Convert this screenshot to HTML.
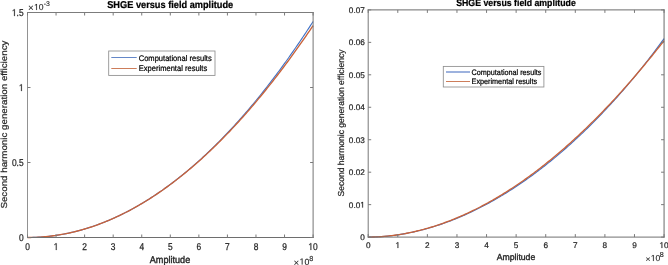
<!DOCTYPE html>
<html><head><meta charset="utf-8"><style>
html,body{margin:0;padding:0;background:#fff;width:668px;height:265px;overflow:hidden}
svg{display:block;will-change:transform}
text{font-family:"Liberation Sans",sans-serif;text-rendering:geometricPrecision}
</style></head><body>
<svg width="668" height="265" viewBox="0 0 668 265">
<rect width="668" height="265" fill="#fff"/>
<polyline points="27.50,237.50 28.93,237.49 30.36,237.48 31.78,237.45 33.21,237.42 34.64,237.37 36.07,237.31 37.50,237.24 38.92,237.16 40.35,237.07 41.78,236.97 43.21,236.86 44.64,236.74 46.06,236.60 47.49,236.46 48.92,236.31 50.35,236.14 51.78,235.97 53.20,235.78 54.63,235.59 56.06,235.38 57.49,235.16 58.92,234.94 60.34,234.70 61.77,234.45 63.20,234.19 64.63,233.92 66.06,233.64 67.48,233.35 68.91,233.04 70.34,232.73 71.77,232.41 73.20,232.07 74.62,231.73 76.05,231.37 77.48,231.01 78.91,230.63 80.34,230.25 81.76,229.85 83.19,229.44 84.62,229.02 86.05,228.59 87.48,228.15 88.90,227.70 90.33,227.24 91.76,226.77 93.19,226.29 94.62,225.79 96.04,225.29 97.47,224.77 98.90,224.25 100.33,223.71 101.76,223.17 103.18,222.61 104.61,222.04 106.04,221.46 107.47,220.88 108.90,220.28 110.32,219.67 111.75,219.05 113.18,218.41 114.61,217.77 116.04,217.12 117.46,216.46 118.89,215.78 120.32,215.10 121.75,214.40 123.18,213.70 124.60,212.98 126.03,212.25 127.46,211.51 128.89,210.77 130.32,210.01 131.74,209.24 133.17,208.46 134.60,207.66 136.03,206.86 137.46,206.05 138.88,205.23 140.31,204.39 141.74,203.55 143.17,202.69 144.60,201.82 146.02,200.95 147.45,200.06 148.88,199.16 150.31,198.25 151.74,197.33 153.16,196.40 154.59,195.46 156.02,194.51 157.45,193.54 158.88,192.57 160.30,191.58 161.73,190.59 163.16,189.58 164.59,188.56 166.02,187.54 167.44,186.50 168.87,185.45 170.30,184.39 171.73,183.31 173.16,182.23 174.58,181.14 176.01,180.03 177.44,178.92 178.87,177.79 180.30,176.66 181.72,175.51 183.15,174.35 184.58,173.18 186.01,172.00 187.44,170.81 188.86,169.61 190.29,168.39 191.72,167.17 193.15,165.93 194.58,164.69 196.00,163.43 197.43,162.16 198.86,160.88 200.29,159.59 201.72,158.29 203.14,156.98 204.57,155.66 206.00,154.32 207.43,152.98 208.86,151.62 210.28,150.25 211.71,148.87 213.14,147.48 214.57,146.08 216.00,144.67 217.42,143.24 218.85,141.81 220.28,140.36 221.71,138.91 223.14,137.44 224.56,135.96 225.99,134.47 227.42,132.96 228.85,131.45 230.28,129.93 231.70,128.39 233.13,126.84 234.56,125.28 235.99,123.71 237.42,122.13 238.84,120.54 240.27,118.93 241.70,117.32 243.13,115.69 244.56,114.05 245.98,112.40 247.41,110.74 248.84,109.07 250.27,107.38 251.70,105.68 253.12,103.98 254.55,102.26 255.98,100.52 257.41,98.78 258.84,97.03 260.26,95.26 261.69,93.48 263.12,91.69 264.55,89.89 265.98,88.08 267.40,86.25 268.83,84.42 270.26,82.57 271.69,80.71 273.12,78.84 274.54,76.95 275.97,75.06 277.40,73.15 278.83,71.23 280.26,69.30 281.68,67.35 283.11,65.40 284.54,63.43 285.97,61.45 287.40,59.46 288.82,57.45 290.25,55.44 291.68,53.41 293.11,51.37 294.54,49.31 295.96,47.25 297.39,45.17 298.82,43.08 300.25,40.98 301.68,38.86 303.10,36.74 304.53,34.60 305.96,32.45 307.39,30.28 308.82,28.11 310.24,25.92 311.67,23.71 313.10,21.50" fill="none" stroke="#3f71c6" stroke-width="1.1" stroke-linejoin="round"/>
<polyline points="27.50,237.50 28.93,237.49 30.36,237.48 31.78,237.45 33.21,237.42 34.64,237.37 36.07,237.31 37.50,237.24 38.92,237.16 40.35,237.07 41.78,236.97 43.21,236.86 44.64,236.74 46.06,236.60 47.49,236.46 48.92,236.31 50.35,236.14 51.78,235.97 53.20,235.78 54.63,235.59 56.06,235.38 57.49,235.16 58.92,234.94 60.34,234.70 61.77,234.45 63.20,234.19 64.63,233.92 66.06,233.64 67.48,233.35 68.91,233.04 70.34,232.73 71.77,232.41 73.20,232.07 74.62,231.73 76.05,231.37 77.48,231.01 78.91,230.63 80.34,230.25 81.76,229.85 83.19,229.44 84.62,229.02 86.05,228.59 87.48,228.15 88.90,227.70 90.33,227.24 91.76,226.77 93.19,226.29 94.62,225.80 96.04,225.29 97.47,224.78 98.90,224.25 100.33,223.72 101.76,223.17 103.18,222.62 104.61,222.05 106.04,221.47 107.47,220.88 108.90,220.28 110.32,219.68 111.75,219.06 113.18,218.42 114.61,217.78 116.04,217.13 117.46,216.47 118.89,215.80 120.32,215.11 121.75,214.42 123.18,213.71 124.60,213.00 126.03,212.27 127.46,211.54 128.89,210.79 130.32,210.03 131.74,209.26 133.17,208.48 134.60,207.69 136.03,206.89 137.46,206.08 138.88,205.26 140.31,204.43 141.74,203.59 143.17,202.73 144.60,201.87 146.02,201.00 147.45,200.11 148.88,199.22 150.31,198.31 151.74,197.39 153.16,196.47 154.59,195.53 156.02,194.58 157.45,193.62 158.88,192.65 160.30,191.67 161.73,190.68 163.16,189.68 164.59,188.67 166.02,187.64 167.44,186.61 168.87,185.57 170.30,184.51 171.73,183.45 173.16,182.37 174.58,181.29 176.01,180.19 177.44,179.08 178.87,177.96 180.30,176.83 181.72,175.70 183.15,174.55 184.58,173.39 186.01,172.21 187.44,171.03 188.86,169.84 190.29,168.64 191.72,167.42 193.15,166.20 194.58,164.97 196.00,163.72 197.43,162.46 198.86,161.20 200.29,159.92 201.72,158.63 203.14,157.34 204.57,156.03 206.00,154.71 207.43,153.38 208.86,152.04 210.28,150.69 211.71,149.32 213.14,147.95 214.57,146.57 216.00,145.17 217.42,143.77 218.85,142.36 220.28,140.93 221.71,139.49 223.14,138.05 224.56,136.59 225.99,135.12 227.42,133.64 228.85,132.16 230.28,130.66 231.70,129.15 233.13,127.63 234.56,126.09 235.99,124.55 237.42,123.00 238.84,121.44 240.27,119.86 241.70,118.28 243.13,116.68 244.56,115.08 245.98,113.46 247.41,111.83 248.84,110.20 250.27,108.55 251.70,106.89 253.12,105.22 254.55,103.54 255.98,101.85 257.41,100.15 258.84,98.44 260.26,96.72 261.69,94.98 263.12,93.24 264.55,91.49 265.98,89.72 267.40,87.95 268.83,86.16 270.26,84.37 271.69,82.56 273.12,80.74 274.54,78.91 275.97,77.08 277.40,75.23 278.83,73.37 280.26,71.50 281.68,69.61 283.11,67.72 284.54,65.82 285.97,63.91 287.40,61.98 288.82,60.05 290.25,58.11 291.68,56.15 293.11,54.18 294.54,52.21 295.96,50.22 297.39,48.22 298.82,46.22 300.25,44.20 301.68,42.17 303.10,40.13 304.53,38.08 305.96,36.02 307.39,33.94 308.82,31.86 310.24,29.77 311.67,27.66 313.10,25.55" fill="none" stroke="#c8623a" stroke-width="1.35" stroke-linejoin="round"/>
<line x1="27.50" y1="12.00" x2="27.50" y2="238.00" stroke="#929292" stroke-width="1"/>
<line x1="313.10" y1="12.00" x2="313.10" y2="238.00" stroke="#757575" stroke-width="1"/>
<line x1="27.00" y1="12.50" x2="313.60" y2="12.50" stroke="#7c7c7c" stroke-width="1"/>
<line x1="27.00" y1="237.50" x2="313.60" y2="237.50" stroke="#6e6e6e" stroke-width="1"/>
<line x1="27.50" y1="237.50" x2="27.50" y2="234.50" stroke="#7a7a7a" stroke-width="1"/>
<line x1="27.50" y1="12.50" x2="27.50" y2="15.50" stroke="#7a7a7a" stroke-width="1"/>
<text transform="translate(27.50,250.00) scale(1,1.170)" x="0" y="0" font-size="8.40" text-anchor="middle" fill="#262626" stroke="#262626" stroke-width="0.22">0</text>
<line x1="56.06" y1="237.50" x2="56.06" y2="234.50" stroke="#7a7a7a" stroke-width="1"/>
<line x1="56.06" y1="12.50" x2="56.06" y2="15.50" stroke="#7a7a7a" stroke-width="1"/>
<text transform="translate(53.72,250.00) scale(1,1.170)" x="0" y="0" font-size="8.40" fill="#262626" stroke="#262626" stroke-width="0.22">&#8199;</text>
<path d="M515 0V1237L197 1010V1180L530 1409H696V0Z" transform="translate(53.724,250.000) scale(0.004102,-0.004799)" fill="#262626" stroke="#262626" stroke-width="0.22" vector-effect="non-scaling-stroke"/>
<line x1="84.62" y1="237.50" x2="84.62" y2="234.50" stroke="#7a7a7a" stroke-width="1"/>
<line x1="84.62" y1="12.50" x2="84.62" y2="15.50" stroke="#7a7a7a" stroke-width="1"/>
<text transform="translate(84.62,250.00) scale(1,1.170)" x="0" y="0" font-size="8.40" text-anchor="middle" fill="#262626" stroke="#262626" stroke-width="0.22">2</text>
<line x1="113.18" y1="237.50" x2="113.18" y2="234.50" stroke="#7a7a7a" stroke-width="1"/>
<line x1="113.18" y1="12.50" x2="113.18" y2="15.50" stroke="#7a7a7a" stroke-width="1"/>
<text transform="translate(113.18,250.00) scale(1,1.170)" x="0" y="0" font-size="8.40" text-anchor="middle" fill="#262626" stroke="#262626" stroke-width="0.22">3</text>
<line x1="141.74" y1="237.50" x2="141.74" y2="234.50" stroke="#7a7a7a" stroke-width="1"/>
<line x1="141.74" y1="12.50" x2="141.74" y2="15.50" stroke="#7a7a7a" stroke-width="1"/>
<text transform="translate(141.74,250.00) scale(1,1.170)" x="0" y="0" font-size="8.40" text-anchor="middle" fill="#262626" stroke="#262626" stroke-width="0.22">4</text>
<line x1="170.30" y1="237.50" x2="170.30" y2="234.50" stroke="#7a7a7a" stroke-width="1"/>
<line x1="170.30" y1="12.50" x2="170.30" y2="15.50" stroke="#7a7a7a" stroke-width="1"/>
<text transform="translate(170.30,250.00) scale(1,1.170)" x="0" y="0" font-size="8.40" text-anchor="middle" fill="#262626" stroke="#262626" stroke-width="0.22">5</text>
<line x1="198.86" y1="237.50" x2="198.86" y2="234.50" stroke="#7a7a7a" stroke-width="1"/>
<line x1="198.86" y1="12.50" x2="198.86" y2="15.50" stroke="#7a7a7a" stroke-width="1"/>
<text transform="translate(198.86,250.00) scale(1,1.170)" x="0" y="0" font-size="8.40" text-anchor="middle" fill="#262626" stroke="#262626" stroke-width="0.22">6</text>
<line x1="227.42" y1="237.50" x2="227.42" y2="234.50" stroke="#7a7a7a" stroke-width="1"/>
<line x1="227.42" y1="12.50" x2="227.42" y2="15.50" stroke="#7a7a7a" stroke-width="1"/>
<text transform="translate(227.42,250.00) scale(1,1.170)" x="0" y="0" font-size="8.40" text-anchor="middle" fill="#262626" stroke="#262626" stroke-width="0.22">7</text>
<line x1="255.98" y1="237.50" x2="255.98" y2="234.50" stroke="#7a7a7a" stroke-width="1"/>
<line x1="255.98" y1="12.50" x2="255.98" y2="15.50" stroke="#7a7a7a" stroke-width="1"/>
<text transform="translate(255.98,250.00) scale(1,1.170)" x="0" y="0" font-size="8.40" text-anchor="middle" fill="#262626" stroke="#262626" stroke-width="0.22">8</text>
<line x1="284.54" y1="237.50" x2="284.54" y2="234.50" stroke="#7a7a7a" stroke-width="1"/>
<line x1="284.54" y1="12.50" x2="284.54" y2="15.50" stroke="#7a7a7a" stroke-width="1"/>
<text transform="translate(284.54,250.00) scale(1,1.170)" x="0" y="0" font-size="8.40" text-anchor="middle" fill="#262626" stroke="#262626" stroke-width="0.22">9</text>
<line x1="313.10" y1="237.50" x2="313.10" y2="234.50" stroke="#7a7a7a" stroke-width="1"/>
<line x1="313.10" y1="12.50" x2="313.10" y2="15.50" stroke="#7a7a7a" stroke-width="1"/>
<text transform="translate(308.43,250.00) scale(1,1.170)" x="0" y="0" font-size="8.40" fill="#262626" stroke="#262626" stroke-width="0.22">&#8199;0</text>
<path d="M515 0V1237L197 1010V1180L530 1409H696V0Z" transform="translate(308.428,250.000) scale(0.004102,-0.004799)" fill="#262626" stroke="#262626" stroke-width="0.22" vector-effect="non-scaling-stroke"/>
<line x1="27.50" y1="237.50" x2="30.50" y2="237.50" stroke="#7a7a7a" stroke-width="1"/>
<line x1="313.10" y1="237.50" x2="310.10" y2="237.50" stroke="#7a7a7a" stroke-width="1"/>
<text transform="translate(23.60,241.04) scale(1,1.170)" x="0" y="0" font-size="8.40" text-anchor="end" fill="#262626" stroke="#262626" stroke-width="0.22">0</text>
<line x1="27.50" y1="162.50" x2="30.50" y2="162.50" stroke="#7a7a7a" stroke-width="1"/>
<line x1="313.10" y1="162.50" x2="310.10" y2="162.50" stroke="#7a7a7a" stroke-width="1"/>
<text transform="translate(23.60,166.04) scale(1,1.170)" x="0" y="0" font-size="8.40" text-anchor="end" fill="#262626" stroke="#262626" stroke-width="0.22">0.5</text>
<line x1="27.50" y1="87.50" x2="30.50" y2="87.50" stroke="#7a7a7a" stroke-width="1"/>
<line x1="313.10" y1="87.50" x2="310.10" y2="87.50" stroke="#7a7a7a" stroke-width="1"/>
<text transform="translate(18.93,91.04) scale(1,1.170)" x="0" y="0" font-size="8.40" fill="#262626" stroke="#262626" stroke-width="0.22">&#8199;</text>
<path d="M515 0V1237L197 1010V1180L530 1409H696V0Z" transform="translate(18.928,91.038) scale(0.004102,-0.004799)" fill="#262626" stroke="#262626" stroke-width="0.22" vector-effect="non-scaling-stroke"/>
<line x1="27.50" y1="12.50" x2="30.50" y2="12.50" stroke="#7a7a7a" stroke-width="1"/>
<line x1="313.10" y1="12.50" x2="310.10" y2="12.50" stroke="#7a7a7a" stroke-width="1"/>
<text transform="translate(11.92,16.04) scale(1,1.170)" x="0" y="0" font-size="8.40" fill="#262626" stroke="#262626" stroke-width="0.22">&#8199;.5</text>
<path d="M515 0V1237L197 1010V1180L530 1409H696V0Z" transform="translate(11.923,16.038) scale(0.004102,-0.004799)" fill="#262626" stroke="#262626" stroke-width="0.22" vector-effect="non-scaling-stroke"/>
<polyline points="368.20,237.10 369.68,237.09 371.16,237.07 372.64,237.04 374.12,237.00 375.60,236.94 377.08,236.88 378.56,236.80 380.03,236.71 381.51,236.62 382.99,236.51 384.47,236.39 385.95,236.26 387.43,236.12 388.91,235.97 390.39,235.80 391.87,235.63 393.35,235.45 394.83,235.26 396.31,235.05 397.79,234.84 399.27,234.62 400.75,234.39 402.23,234.14 403.70,233.89 405.18,233.63 406.66,233.35 408.14,233.07 409.62,232.78 411.10,232.47 412.58,232.16 414.06,231.84 415.54,231.51 417.02,231.16 418.50,230.81 419.98,230.45 421.46,230.08 422.94,229.70 424.42,229.31 425.89,228.90 427.37,228.49 428.85,228.07 430.33,227.64 431.81,227.21 433.29,226.76 434.77,226.30 436.25,225.83 437.73,225.35 439.21,224.86 440.69,224.37 442.17,223.86 443.65,223.34 445.13,222.82 446.61,222.28 448.08,221.74 449.56,221.19 451.04,220.62 452.52,220.05 454.00,219.47 455.48,218.88 456.96,218.27 458.44,217.66 459.92,217.04 461.40,216.41 462.88,215.77 464.36,215.13 465.84,214.47 467.32,213.80 468.80,213.12 470.28,212.44 471.75,211.74 473.23,211.04 474.71,210.33 476.19,209.60 477.67,208.87 479.15,208.13 480.63,207.38 482.11,206.61 483.59,205.84 485.07,205.07 486.55,204.28 488.03,203.48 489.51,202.67 490.99,201.85 492.47,201.03 493.94,200.19 495.42,199.35 496.90,198.49 498.38,197.63 499.86,196.76 501.34,195.88 502.82,194.98 504.30,194.08 505.78,193.17 507.26,192.25 508.74,191.32 510.22,190.39 511.70,189.44 513.18,188.48 514.66,187.52 516.13,186.54 517.61,185.56 519.09,184.56 520.57,183.56 522.05,182.54 523.53,181.52 525.01,180.49 526.49,179.45 527.97,178.40 529.45,177.34 530.93,176.27 532.41,175.19 533.89,174.10 535.37,173.00 536.85,171.89 538.33,170.78 539.80,169.65 541.28,168.51 542.76,167.37 544.24,166.21 545.72,165.05 547.20,163.87 548.68,162.69 550.16,161.50 551.64,160.29 553.12,159.08 554.60,157.86 556.08,156.63 557.56,155.39 559.04,154.13 560.52,152.87 561.99,151.60 563.47,150.32 564.95,149.03 566.43,147.73 567.91,146.42 569.39,145.10 570.87,143.77 572.35,142.43 573.83,141.08 575.31,139.72 576.79,138.35 578.27,136.97 579.75,135.58 581.23,134.19 582.71,132.78 584.19,131.36 585.66,129.93 587.14,128.49 588.62,127.04 590.10,125.58 591.58,124.11 593.06,122.63 594.54,121.13 596.02,119.63 597.50,118.12 598.98,116.60 600.46,115.07 601.94,113.52 603.42,111.97 604.90,110.41 606.38,108.83 607.85,107.25 609.33,105.65 610.81,104.04 612.29,102.43 613.77,100.80 615.25,99.16 616.73,97.51 618.21,95.85 619.69,94.18 621.17,92.49 622.65,90.80 624.13,89.09 625.61,87.38 627.09,85.65 628.57,83.91 630.04,82.16 631.52,80.40 633.00,78.63 634.48,76.84 635.96,75.05 637.44,73.24 638.92,71.42 640.40,69.59 641.88,67.75 643.36,65.90 644.84,64.03 646.32,62.15 647.80,60.26 649.28,58.36 650.76,56.45 652.24,54.52 653.71,52.58 655.19,50.63 656.67,48.67 658.15,46.69 659.63,44.70 661.11,42.70 662.59,40.69 664.07,38.66" fill="none" stroke="#3f71c6" stroke-width="1.1" stroke-linejoin="round"/>
<polyline points="368.20,237.10 369.68,237.09 371.16,237.07 372.64,237.04 374.12,237.00 375.60,236.94 377.08,236.87 378.56,236.80 380.03,236.71 381.51,236.61 382.99,236.49 384.47,236.37 385.95,236.24 387.43,236.09 388.91,235.94 390.39,235.77 391.87,235.60 393.35,235.41 394.83,235.22 396.31,235.01 397.79,234.79 399.27,234.56 400.75,234.32 402.23,234.08 403.70,233.82 405.18,233.55 406.66,233.27 408.14,232.98 409.62,232.68 411.10,232.37 412.58,232.05 414.06,231.72 415.54,231.38 417.02,231.03 418.50,230.67 419.98,230.30 421.46,229.92 422.94,229.53 424.42,229.13 425.89,228.72 427.37,228.30 428.85,227.87 430.33,227.43 431.81,226.98 433.29,226.52 434.77,226.06 436.25,225.58 437.73,225.09 439.21,224.59 440.69,224.08 442.17,223.57 443.65,223.04 445.13,222.50 446.61,221.95 448.08,221.40 449.56,220.83 451.04,220.26 452.52,219.67 454.00,219.08 455.48,218.47 456.96,217.86 458.44,217.23 459.92,216.60 461.40,215.96 462.88,215.30 464.36,214.64 465.84,213.97 467.32,213.29 468.80,212.60 470.28,211.90 471.75,211.19 473.23,210.47 474.71,209.74 476.19,209.00 477.67,208.26 479.15,207.50 480.63,206.73 482.11,205.96 483.59,205.17 485.07,204.38 486.55,203.57 488.03,202.76 489.51,201.94 490.99,201.10 492.47,200.26 493.94,199.41 495.42,198.55 496.90,197.68 498.38,196.80 499.86,195.91 501.34,195.02 502.82,194.11 504.30,193.19 505.78,192.27 507.26,191.33 508.74,190.39 510.22,189.43 511.70,188.47 513.18,187.50 514.66,186.52 516.13,185.53 517.61,184.53 519.09,183.52 520.57,182.50 522.05,181.47 523.53,180.43 525.01,179.39 526.49,178.33 527.97,177.27 529.45,176.19 530.93,175.11 532.41,174.02 533.89,172.92 535.37,171.81 536.85,170.69 538.33,169.56 539.80,168.42 541.28,167.27 542.76,166.11 544.24,164.95 545.72,163.77 547.20,162.59 548.68,161.40 550.16,160.20 551.64,158.98 553.12,157.76 554.60,156.53 556.08,155.30 557.56,154.05 559.04,152.79 560.52,151.52 561.99,150.25 563.47,148.97 564.95,147.67 566.43,146.37 567.91,145.06 569.39,143.74 570.87,142.41 572.35,141.07 573.83,139.72 575.31,138.37 576.79,137.00 578.27,135.63 579.75,134.24 581.23,132.85 582.71,131.45 584.19,130.04 585.66,128.62 587.14,127.19 588.62,125.75 590.10,124.30 591.58,122.85 593.06,121.38 594.54,119.91 596.02,118.43 597.50,116.94 598.98,115.43 600.46,113.92 601.94,112.41 603.42,110.88 604.90,109.34 606.38,107.80 607.85,106.24 609.33,104.68 610.81,103.11 612.29,101.52 613.77,99.93 615.25,98.34 616.73,96.73 618.21,95.11 619.69,93.48 621.17,91.85 622.65,90.21 624.13,88.55 625.61,86.89 627.09,85.22 628.57,83.54 630.04,81.85 631.52,80.16 633.00,78.45 634.48,76.73 635.96,75.01 637.44,73.28 638.92,71.54 640.40,69.78 641.88,68.03 643.36,66.26 644.84,64.48 646.32,62.69 647.80,60.90 649.28,59.10 650.76,57.28 652.24,55.46 653.71,53.63 655.19,51.79 656.67,49.94 658.15,48.09 659.63,46.22 661.11,44.35 662.59,42.46 664.07,40.57" fill="none" stroke="#c8623a" stroke-width="1.35" stroke-linejoin="round"/>
<line x1="368.20" y1="9.40" x2="368.20" y2="237.60" stroke="#787878" stroke-width="1"/>
<line x1="664.07" y1="9.40" x2="664.07" y2="237.60" stroke="#696969" stroke-width="1"/>
<line x1="367.70" y1="9.90" x2="664.57" y2="9.90" stroke="#6c6c6c" stroke-width="1"/>
<line x1="367.70" y1="237.10" x2="664.57" y2="237.10" stroke="#717171" stroke-width="1"/>
<line x1="368.20" y1="237.10" x2="368.20" y2="234.10" stroke="#7a7a7a" stroke-width="1"/>
<line x1="368.20" y1="9.90" x2="368.20" y2="12.90" stroke="#7a7a7a" stroke-width="1"/>
<text x="368.20" y="248.00" font-size="8.20" text-anchor="middle" fill="#262626" stroke="#262626" stroke-width="0.22">0</text>
<line x1="397.79" y1="237.10" x2="397.79" y2="234.10" stroke="#7a7a7a" stroke-width="1"/>
<line x1="397.79" y1="9.90" x2="397.79" y2="12.90" stroke="#7a7a7a" stroke-width="1"/>
<text x="395.51" y="248.00" font-size="8.20" fill="#262626" stroke="#262626" stroke-width="0.22">&#8199;</text>
<path d="M515 0V1237L197 1010V1180L530 1409H696V0Z" transform="translate(395.507,248.000) scale(0.004004,-0.004004)" fill="#262626" stroke="#262626" stroke-width="0.22" vector-effect="non-scaling-stroke"/>
<line x1="427.37" y1="237.10" x2="427.37" y2="234.10" stroke="#7a7a7a" stroke-width="1"/>
<line x1="427.37" y1="9.90" x2="427.37" y2="12.90" stroke="#7a7a7a" stroke-width="1"/>
<text x="427.37" y="248.00" font-size="8.20" text-anchor="middle" fill="#262626" stroke="#262626" stroke-width="0.22">2</text>
<line x1="456.96" y1="237.10" x2="456.96" y2="234.10" stroke="#7a7a7a" stroke-width="1"/>
<line x1="456.96" y1="9.90" x2="456.96" y2="12.90" stroke="#7a7a7a" stroke-width="1"/>
<text x="456.96" y="248.00" font-size="8.20" text-anchor="middle" fill="#262626" stroke="#262626" stroke-width="0.22">3</text>
<line x1="486.55" y1="237.10" x2="486.55" y2="234.10" stroke="#7a7a7a" stroke-width="1"/>
<line x1="486.55" y1="9.90" x2="486.55" y2="12.90" stroke="#7a7a7a" stroke-width="1"/>
<text x="486.55" y="248.00" font-size="8.20" text-anchor="middle" fill="#262626" stroke="#262626" stroke-width="0.22">4</text>
<line x1="516.13" y1="237.10" x2="516.13" y2="234.10" stroke="#7a7a7a" stroke-width="1"/>
<line x1="516.13" y1="9.90" x2="516.13" y2="12.90" stroke="#7a7a7a" stroke-width="1"/>
<text x="516.13" y="248.00" font-size="8.20" text-anchor="middle" fill="#262626" stroke="#262626" stroke-width="0.22">5</text>
<line x1="545.72" y1="237.10" x2="545.72" y2="234.10" stroke="#7a7a7a" stroke-width="1"/>
<line x1="545.72" y1="9.90" x2="545.72" y2="12.90" stroke="#7a7a7a" stroke-width="1"/>
<text x="545.72" y="248.00" font-size="8.20" text-anchor="middle" fill="#262626" stroke="#262626" stroke-width="0.22">6</text>
<line x1="575.31" y1="237.10" x2="575.31" y2="234.10" stroke="#7a7a7a" stroke-width="1"/>
<line x1="575.31" y1="9.90" x2="575.31" y2="12.90" stroke="#7a7a7a" stroke-width="1"/>
<text x="575.31" y="248.00" font-size="8.20" text-anchor="middle" fill="#262626" stroke="#262626" stroke-width="0.22">7</text>
<line x1="604.90" y1="237.10" x2="604.90" y2="234.10" stroke="#7a7a7a" stroke-width="1"/>
<line x1="604.90" y1="9.90" x2="604.90" y2="12.90" stroke="#7a7a7a" stroke-width="1"/>
<text x="604.90" y="248.00" font-size="8.20" text-anchor="middle" fill="#262626" stroke="#262626" stroke-width="0.22">8</text>
<line x1="634.48" y1="237.10" x2="634.48" y2="234.10" stroke="#7a7a7a" stroke-width="1"/>
<line x1="634.48" y1="9.90" x2="634.48" y2="12.90" stroke="#7a7a7a" stroke-width="1"/>
<text x="634.48" y="248.00" font-size="8.20" text-anchor="middle" fill="#262626" stroke="#262626" stroke-width="0.22">9</text>
<line x1="664.07" y1="237.10" x2="664.07" y2="234.10" stroke="#7a7a7a" stroke-width="1"/>
<line x1="664.07" y1="9.90" x2="664.07" y2="12.90" stroke="#7a7a7a" stroke-width="1"/>
<text x="659.51" y="248.00" font-size="8.20" fill="#262626" stroke="#262626" stroke-width="0.22">&#8199;0</text>
<path d="M515 0V1237L197 1010V1180L530 1409H696V0Z" transform="translate(659.510,248.000) scale(0.004004,-0.004004)" fill="#262626" stroke="#262626" stroke-width="0.22" vector-effect="non-scaling-stroke"/>
<line x1="368.20" y1="237.10" x2="371.20" y2="237.10" stroke="#7a7a7a" stroke-width="1"/>
<line x1="664.07" y1="237.10" x2="661.07" y2="237.10" stroke="#7a7a7a" stroke-width="1"/>
<text x="364.80" y="240.05" font-size="8.20" text-anchor="end" fill="#262626" stroke="#262626" stroke-width="0.22">0</text>
<line x1="368.20" y1="204.64" x2="371.20" y2="204.64" stroke="#7a7a7a" stroke-width="1"/>
<line x1="664.07" y1="204.64" x2="661.07" y2="204.64" stroke="#7a7a7a" stroke-width="1"/>
<text x="348.84" y="207.59" font-size="8.20" fill="#262626" stroke="#262626" stroke-width="0.22">0.0&#8199;</text>
<path d="M515 0V1237L197 1010V1180L530 1409H696V0Z" transform="translate(360.240,207.595) scale(0.004004,-0.004004)" fill="#262626" stroke="#262626" stroke-width="0.22" vector-effect="non-scaling-stroke"/>
<line x1="368.20" y1="172.19" x2="371.20" y2="172.19" stroke="#7a7a7a" stroke-width="1"/>
<line x1="664.07" y1="172.19" x2="661.07" y2="172.19" stroke="#7a7a7a" stroke-width="1"/>
<text x="364.80" y="175.14" font-size="8.20" text-anchor="end" fill="#262626" stroke="#262626" stroke-width="0.22">0.02</text>
<line x1="368.20" y1="139.73" x2="371.20" y2="139.73" stroke="#7a7a7a" stroke-width="1"/>
<line x1="664.07" y1="139.73" x2="661.07" y2="139.73" stroke="#7a7a7a" stroke-width="1"/>
<text x="364.80" y="142.68" font-size="8.20" text-anchor="end" fill="#262626" stroke="#262626" stroke-width="0.22">0.03</text>
<line x1="368.20" y1="107.27" x2="371.20" y2="107.27" stroke="#7a7a7a" stroke-width="1"/>
<line x1="664.07" y1="107.27" x2="661.07" y2="107.27" stroke="#7a7a7a" stroke-width="1"/>
<text x="364.80" y="110.22" font-size="8.20" text-anchor="end" fill="#262626" stroke="#262626" stroke-width="0.22">0.04</text>
<line x1="368.20" y1="74.81" x2="371.20" y2="74.81" stroke="#7a7a7a" stroke-width="1"/>
<line x1="664.07" y1="74.81" x2="661.07" y2="74.81" stroke="#7a7a7a" stroke-width="1"/>
<text x="364.80" y="77.77" font-size="8.20" text-anchor="end" fill="#262626" stroke="#262626" stroke-width="0.22">0.05</text>
<line x1="368.20" y1="42.36" x2="371.20" y2="42.36" stroke="#7a7a7a" stroke-width="1"/>
<line x1="664.07" y1="42.36" x2="661.07" y2="42.36" stroke="#7a7a7a" stroke-width="1"/>
<text x="364.80" y="45.31" font-size="8.20" text-anchor="end" fill="#262626" stroke="#262626" stroke-width="0.22">0.06</text>
<line x1="368.20" y1="9.90" x2="371.20" y2="9.90" stroke="#7a7a7a" stroke-width="1"/>
<line x1="664.07" y1="9.90" x2="661.07" y2="9.90" stroke="#7a7a7a" stroke-width="1"/>
<text x="364.80" y="12.85" font-size="8.20" text-anchor="end" fill="#262626" stroke="#262626" stroke-width="0.22">0.07</text>
<text transform="translate(170.20,7.90) scale(1,1.080)" x="0" y="0" font-size="9.20" text-anchor="middle" font-weight="bold" fill="#000" stroke="#000" stroke-width="0.22" textLength="126.00" lengthAdjust="spacingAndGlyphs">SHGE versus field amplitude</text>
<text transform="translate(516.00,6.00) scale(1,1.080)" x="0" y="0" font-size="8.80" text-anchor="middle" font-weight="bold" fill="#000" stroke="#000" stroke-width="0.22" textLength="119.60" lengthAdjust="spacingAndGlyphs">SHGE versus field amplitude</text>
<text transform="translate(170.00,262.60) scale(1,1.070)" x="0" y="0" font-size="9.10" text-anchor="middle" fill="#262626" stroke="#262626" stroke-width="0.35" textLength="40.40" lengthAdjust="spacingAndGlyphs">Amplitude</text>
<text x="516.00" y="259.70" font-size="8.75" text-anchor="middle" fill="#262626" stroke="#262626" stroke-width="0.35" textLength="38.60" lengthAdjust="spacingAndGlyphs">Amplitude</text>
<text transform="translate(6.80,124.60) rotate(-90)" x="0" y="0" font-size="8.70" text-anchor="middle" fill="#262626" stroke="#262626" stroke-width="0.22" textLength="168.00" lengthAdjust="spacingAndGlyphs">Second harmonic generation efficiency</text>
<text transform="translate(344.20,123.00) rotate(-90)" x="0" y="0" font-size="8.70" text-anchor="middle" fill="#262626" stroke="#262626" stroke-width="0.22" textLength="147.00" lengthAdjust="spacingAndGlyphs">Second harmonic generation efficiency</text>
<rect x="108.70" y="51.00" width="106.30" height="24.40" fill="#fff" stroke="#8e8e8e" stroke-width="0.85"/>
<line x1="111.30" y1="57.50" x2="136.70" y2="57.50" stroke="#6487c8" stroke-width="1"/>
<line x1="111.30" y1="68.50" x2="136.70" y2="68.50" stroke="#cd7d5a" stroke-width="1"/>
<text transform="translate(138.70,60.60) scale(1,1.080)" x="0" y="0" font-size="7.60" fill="#000" stroke="#000" stroke-width="0.20" textLength="73.00" lengthAdjust="spacingAndGlyphs">Computational results</text>
<text transform="translate(138.70,71.40) scale(1,1.080)" x="0" y="0" font-size="7.60" fill="#000" stroke="#000" stroke-width="0.20" textLength="68.50" lengthAdjust="spacingAndGlyphs">Experimental results</text>
<rect x="443.30" y="66.40" width="100.60" height="20.60" fill="#fff" stroke="#8e8e8e" stroke-width="0.85"/>
<line x1="446.00" y1="72.00" x2="470.00" y2="72.00" stroke="#7391d0" stroke-width="1.4"/>
<line x1="446.00" y1="81.50" x2="470.00" y2="81.50" stroke="#cd7d5a" stroke-width="1"/>
<text transform="translate(471.60,74.60) scale(1,1.100)" x="0" y="0" font-size="7.20" fill="#000" stroke="#000" stroke-width="0.20" textLength="69.80" lengthAdjust="spacingAndGlyphs">Computational results</text>
<text transform="translate(471.60,84.00) scale(1,1.100)" x="0" y="0" font-size="7.20" fill="#000" stroke="#000" stroke-width="0.20" textLength="65.50" lengthAdjust="spacingAndGlyphs">Experimental results</text>
<text x="27.90" y="11.30" font-size="9.80" fill="#262626" stroke="#262626" stroke-width="0.10">&#215;</text>
<text x="34.05" y="10.00" font-size="8.60" fill="#262626" stroke="#262626" stroke-width="0.12">&#8199;0</text>
<path d="M515 0V1237L197 1010V1180L530 1409H696V0Z" transform="translate(34.050,10.000) scale(0.004199,-0.004199)" fill="#262626" stroke="#262626" stroke-width="0.12" vector-effect="non-scaling-stroke"/>
<text x="43.70" y="5.75" font-size="6.90" fill="#262626" stroke="#262626" stroke-width="0.12">-3</text>
<text x="293.50" y="266.20" font-size="9.80" fill="#262626" stroke="#262626" stroke-width="0.05">&#215;</text>
<text x="299.53" y="264.50" font-size="8.80" fill="#262626" stroke="#262626" stroke-width="0.12">&#8199;0</text>
<path d="M515 0V1237L197 1010V1180L530 1409H696V0Z" transform="translate(299.530,264.500) scale(0.004297,-0.004297)" fill="#262626" stroke="#262626" stroke-width="0.12" vector-effect="non-scaling-stroke"/>
<text x="309.19" y="260.90" font-size="7.30" fill="#262626" stroke="#262626" stroke-width="0.12">8</text>
<text x="645.60" y="261.90" font-size="8.60" fill="#262626" stroke="#262626" stroke-width="0.05">&#215;</text>
<text x="650.80" y="261.00" font-size="8.60" fill="#262626" stroke="#262626" stroke-width="0.12">&#8199;0</text>
<path d="M515 0V1237L197 1010V1180L530 1409H696V0Z" transform="translate(650.800,261.000) scale(0.004199,-0.004199)" fill="#262626" stroke="#262626" stroke-width="0.12" vector-effect="non-scaling-stroke"/>
<text x="659.80" y="257.33" font-size="7.20" fill="#262626" stroke="#262626" stroke-width="0.12">8</text>
</svg>
</body></html>
